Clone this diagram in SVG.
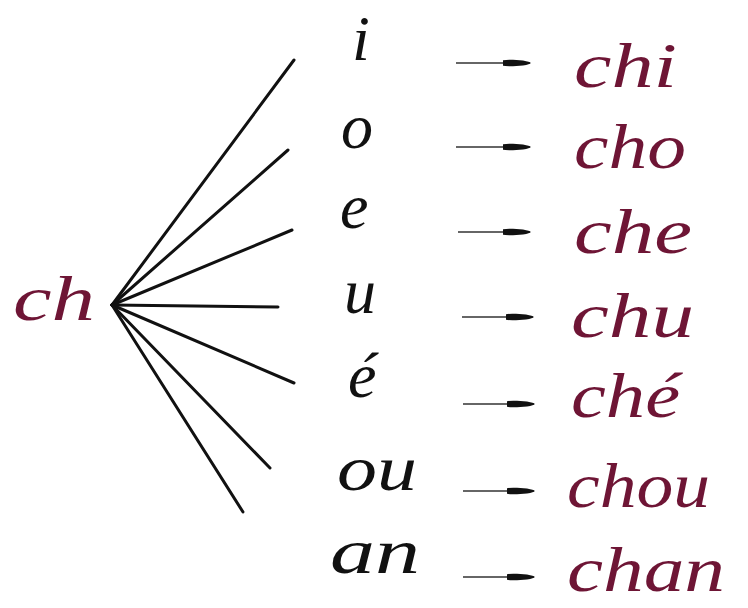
<svg xmlns="http://www.w3.org/2000/svg" width="748" height="608" viewBox="0 0 748 608">
<defs>
<style>
.bg{fill:#ffffff}
.t{font-family:"Liberation Serif","DejaVu Serif",serif;font-style:italic;font-size:64px}
.v{fill:#111111}
.r{fill:#6e1535}
.fan{stroke:#111111;stroke-width:3;stroke-linecap:round;fill:none}
.arr{stroke:#333333;stroke-width:1.6;fill:none;marker-end:url(#head)}
</style>
<marker id="head" viewBox="0 0 28 8" refX="27" refY="4" markerWidth="28" markerHeight="8" markerUnits="userSpaceOnUse" orient="auto">
<path d="M0,1.2 Q2,0.6 10,0.8 L20,1.4 Q27,2.8 28,4 Q27,5.2 20,6.6 L10,7.2 Q2,7.4 0,6.8 Z" fill="#111111"/>
</marker>
</defs>
<rect class="bg" x="0" y="0" width="748" height="608"/>
<g id="connectors">
<line class="fan" x1="112" y1="305" x2="294" y2="60"/>
<line class="fan" x1="112" y1="305" x2="288" y2="150"/>
<line class="fan" x1="112" y1="305" x2="292" y2="230"/>
<line class="fan" x1="112" y1="305" x2="278" y2="307"/>
<line class="fan" x1="112" y1="305" x2="294" y2="383"/>
<line class="fan" x1="112" y1="305" x2="270" y2="468"/>
<line class="fan" x1="112" y1="305" x2="243" y2="512"/>
<line class="arr" x1="456" y1="63" x2="530" y2="63"/>
<line class="arr" x1="456" y1="147" x2="530" y2="147"/>
<line class="arr" x1="458" y1="232" x2="530" y2="232"/>
<line class="arr" x1="462" y1="317" x2="533" y2="317"/>
<line class="arr" x1="463" y1="404" x2="534" y2="404"/>
<line class="arr" x1="463" y1="491" x2="534" y2="491"/>
<line class="arr" x1="463" y1="577" x2="534" y2="577"/>
</g>
<g id="hub"><text class="t r" x="13" y="320" textLength="82" lengthAdjust="spacingAndGlyphs">ch</text></g>
<g id="vowel-i"><text class="t v" x="352" y="60">i</text></g>
<g id="vowel-o"><text class="t v" x="341" y="148">o</text></g>
<g id="vowel-e"><text class="t v" x="340" y="228">e</text></g>
<g id="vowel-u"><text class="t v" x="344" y="313">u</text></g>
<g id="vowel-eacute"><text class="t v" x="348" y="397">é</text></g>
<g id="vowel-ou"><text class="t v" x="337" y="490" textLength="80" lengthAdjust="spacingAndGlyphs">ou</text></g>
<g id="vowel-an"><text class="t v" x="330" y="573" textLength="90" lengthAdjust="spacingAndGlyphs">an</text></g>
<g id="result-chi"><text class="t r" x="574" y="87" textLength="103" lengthAdjust="spacingAndGlyphs">chi</text></g>
<g id="result-cho"><text class="t r" x="574" y="168" textLength="112" lengthAdjust="spacingAndGlyphs">cho</text></g>
<g id="result-che"><text class="t r" x="574" y="253" textLength="118" lengthAdjust="spacingAndGlyphs">che</text></g>
<g id="result-chu"><text class="t r" x="571" y="337" textLength="123" lengthAdjust="spacingAndGlyphs">chu</text></g>
<g id="result-che-acute"><text class="t r" x="571" y="417" textLength="109" lengthAdjust="spacingAndGlyphs">ché</text></g>
<g id="result-chou"><text class="t r" x="567" y="507" textLength="143" lengthAdjust="spacingAndGlyphs">chou</text></g>
<g id="result-chan"><text class="t r" x="567" y="591" textLength="158" lengthAdjust="spacingAndGlyphs">chan</text></g>
</svg>
